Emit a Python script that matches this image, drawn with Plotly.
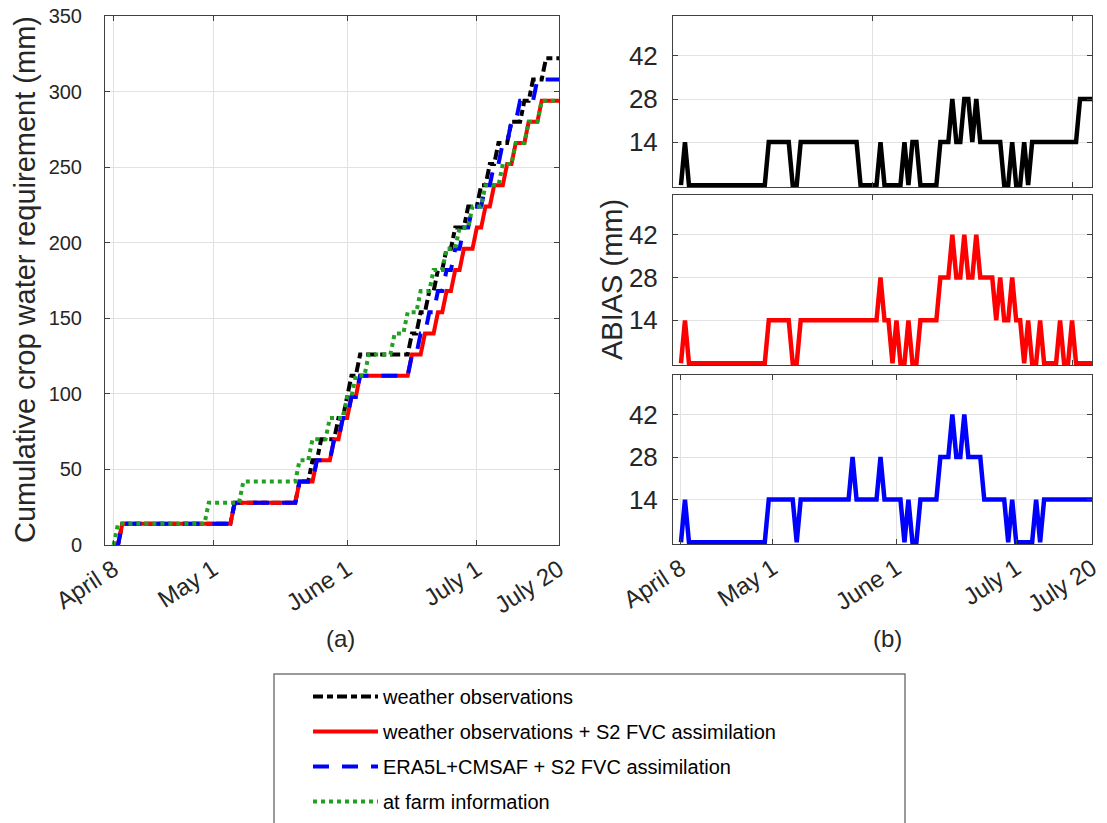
import plotly.graph_objects as go
import pandas as pd

# ---------------- data (day offsets from April 8) ----------------
START = "2021-04-08"

# cumulative crop water requirement (mm), breakpoints of the staircases
black_days = [0, 1, 2, 27, 28, 42, 43, 45, 46, 47, 48, 51, 52, 53, 54, 55, 56, 57, 68, 69, 70, 71, 72, 73,
              74, 75, 76, 77, 78, 79, 81, 82, 84, 85, 86, 87, 88, 89, 91, 92, 94, 95, 96, 97, 99, 100, 103]
black_vals = [0, 0, 14, 14, 28, 28, 42, 42, 56, 56, 70, 70, 84, 84, 98, 112, 112, 126, 126, 140, 140, 154, 154, 168,
              168, 182, 182, 196, 196, 210, 210, 224, 224, 238, 238, 252, 252, 266, 266, 280, 280, 294, 294, 308, 308, 322, 322]

red_days = [0, 1, 2, 27, 28, 42, 43, 46, 47, 50, 51, 52, 53, 54, 55, 56, 57, 68, 69, 71, 72, 74, 75, 76, 77, 78,
            79, 80, 81, 83, 84, 85, 86, 87, 88, 90, 91, 92, 93, 95, 96, 98, 99, 103]
red_vals = [0, 0, 14, 14, 28, 28, 42, 42, 56, 56, 70, 70, 84, 84, 98, 98, 112, 112, 126, 126, 140, 140, 154, 154, 168, 168,
            182, 182, 196, 196, 210, 210, 224, 224, 238, 238, 252, 252, 266, 266, 280, 280, 294, 294]

blue_days = [0, 1, 2, 27, 28, 42, 43, 46, 47, 50, 51, 52, 53, 54, 55, 56, 57, 68, 69, 70, 71, 72, 73, 74, 75, 76,
             77, 78, 79, 80, 81, 82, 83, 85, 86, 87, 88, 89, 90, 91, 92, 93, 94, 97, 98, 103]
blue_vals = [0, 0, 14, 14, 28, 28, 42, 42, 56, 56, 70, 70, 84, 84, 98, 98, 112, 112, 126, 126, 140, 140, 154, 154, 168, 168,
             182, 182, 196, 196, 210, 210, 224, 224, 238, 238, 252, 252, 266, 266, 280, 280, 294, 294, 308, 308]

green_days = [0, 1, 21, 22, 29, 30, 42, 43, 45, 46, 49, 50, 53, 54, 55, 56, 58, 59, 64, 65, 67, 68, 70, 71, 73, 74,
              76, 77, 79, 80, 82, 83, 85, 86, 89, 90, 92, 93, 95, 96, 98, 99, 103]
green_vals = [0, 14, 14, 28, 28, 42, 42, 56, 56, 70, 70, 84, 84, 98, 98, 112, 112, 126, 126, 140, 140, 154, 154, 168, 168, 182,
              182, 196, 196, 210, 210, 224, 224, 238, 238, 252, 252, 266, 266, 280, 280, 294, 294]

# ABIAS (mm) breakpoints
abias_black_days = [0, 1, 2, 21, 22, 27, 28, 29, 30, 44, 45, 49, 50, 51, 55, 56, 57, 58, 59, 60, 64, 65, 67, 68, 69, 70,
                    71, 72, 73, 74, 75, 80, 81, 82, 83, 84, 85, 86, 87, 88, 99, 100, 103]
abias_black_vals = [0, 14, 0, 0, 14, 14, 0, 0, 14, 14, 0, 0, 14, 0, 0, 14, 0, 14, 14, 0, 0, 14, 14, 28, 14, 14,
                    28, 28, 14, 28, 14, 14, 0, 0, 14, 0, 0, 14, 0, 14, 14, 28, 28]

abias_red_days = [0, 1, 2, 21, 22, 27, 28, 29, 30, 49, 50, 51, 52, 53, 54, 55, 56, 57, 58, 59, 60, 64, 65, 67, 68, 69,
                  70, 71, 72, 73, 74, 75, 78, 79, 80, 81, 82, 83, 84, 85, 86, 87, 88, 89, 90, 91, 94, 95, 96, 97, 98, 99, 103]
abias_red_vals = [0, 14, 0, 0, 14, 14, 0, 0, 14, 14, 28, 14, 14, 0, 14, 0, 0, 14, 0, 0, 14, 14, 28, 28, 42, 28,
                  28, 42, 28, 28, 42, 28, 28, 14, 28, 14, 14, 28, 14, 14, 0, 14, 0, 0, 14, 0, 0, 14, 0, 0, 14, 0, 0]

abias_blue_days = [0, 1, 2, 21, 22, 28, 29, 30, 42, 43, 44, 49, 50, 51, 55, 56, 57, 58, 59, 60, 64, 65, 67, 68, 69, 70,
                   71, 72, 75, 76, 81, 82, 83, 84, 88, 89, 90, 91, 103]
abias_blue_vals = [0, 14, 0, 0, 14, 14, 0, 14, 14, 28, 14, 14, 28, 14, 14, 0, 14, 0, 0, 14, 14, 28, 28, 42, 28, 28,
                   42, 28, 28, 14, 14, 0, 14, 0, 0, 14, 0, 14, 14]

series_names = ["weather observations",
                "weather observations + S2 FVC assimilation",
                "ERA5L+CMSAF + S2 FVC assimilation",
                "at farm information"]

x_range = ["2021-04-06", "2021-07-20"]
date_ticks = ["2021-04-08", "2021-05-01", "2021-06-01", "2021-07-01", "2021-07-20"]
date_tick_text = ["April 8", "May 1", "June 1", "July 1", "July 20"]
top_x_ticks = ["2021-05-26", "2021-07-15"]
left_y_ticks = [0, 50, 100, 150, 200, 250, 300, 350]
right_y_ticks = [14, 28, 42]


def to_dates(days):
    return pd.to_datetime(START) + pd.to_timedelta(days, unit="D")


W, H = 1107, 823
OFF = 8  # page body margin of the browser
def fx(p):
    return (p - OFF) / W
def fy(p):
    return 1 - (p - OFF) / H

FONT = "Arial, Liberation Sans, sans-serif"
TXT = "#262626"

fig = go.Figure()

styles = [
    dict(color="black", dash="10px,4px,6px,4px"),
    dict(color="#ff0000", dash="solid"),
    dict(color="#0000ff", dash="16px,13px"),
    dict(color="#22a022", dash="4px,4px"),
]
left_data = [(black_days, black_vals), (red_days, red_vals), (blue_days, blue_vals), (green_days, green_vals)]
for i, ((d, v), st, name) in enumerate(zip(left_data, styles, series_names)):
    fig.add_trace(go.Scatter(
        x=to_dates(d), y=v, mode="lines", name=name,
        line=dict(color=st["color"], dash=st["dash"], width=4),
        legendgroup="g%d" % i, xaxis="x", yaxis="y"))

abias_data = [(abias_black_days, abias_black_vals, "black", "x2", "y2"),
              (abias_red_days, abias_red_vals, "#ff0000", "x3", "y3"),
              (abias_blue_days, abias_blue_vals, "#0000ff", "x4", "y4")]
for d, v, c, xa, ya in abias_data:
    fig.add_trace(go.Scatter(x=to_dates(d), y=v, mode="lines", showlegend=False,
                             line=dict(color=c, width=4.5), xaxis=xa, yaxis=ya))

ax = dict(showline=True, linecolor="#404040", linewidth=1, mirror="ticks", ticks="inside",
          ticklen=5, tickcolor="#404040", showgrid=True, gridcolor="#e2e2e2", gridwidth=1,
          zeroline=False, automargin=False, ticklabeloverflow="allow",
          tickfont=dict(family=FONT, size=20, color=TXT))
rfont = dict(family=FONT, size=26, color=TXT)
xfont = dict(family=FONT, size=24, color=TXT)

x_left_dom = [fx(105), fx(559)]
x_right_dom = [fx(673), fx(1092)]

fig.update_layout(
    width=W, height=H, margin=dict(l=0, r=0, t=0, b=0, autoexpand=False),
    paper_bgcolor="white", plot_bgcolor="white",
    font=dict(family=FONT, color=TXT),
    xaxis=dict(ax, type="date", range=x_range, domain=x_left_dom, anchor="y",
               tickvals=date_ticks, ticktext=date_tick_text, tickangle=-33, tickfont=xfont),
    yaxis=dict(ax, range=[0, 350], domain=[fy(545), fy(16)], anchor="x",
               tickvals=left_y_ticks, ticklabelstandoff=18),
    xaxis2=dict(ax, type="date", range=x_range, domain=x_right_dom, anchor="y2",
                tickvals=top_x_ticks, showticklabels=False),
    yaxis2=dict(ax, range=[-0.6, 55], domain=[fy(187), fy(16)], anchor="x2",
                tickvals=right_y_ticks, tickfont=rfont, ticklabelstandoff=9),
    xaxis3=dict(ax, type="date", range=x_range, domain=x_right_dom, anchor="y3",
                tickvals=top_x_ticks, showticklabels=False),
    yaxis3=dict(ax, range=[-0.6, 55], domain=[fy(365), fy(195)], anchor="x3",
                tickvals=right_y_ticks, tickfont=rfont, ticklabelstandoff=9),
    xaxis4=dict(ax, type="date", range=x_range, domain=x_right_dom, anchor="y4",
                tickvals=date_ticks, ticktext=date_tick_text, tickangle=-33, tickfont=xfont),
    yaxis4=dict(ax, range=[-0.6, 55], domain=[fy(544), fy(375)], anchor="x4",
                tickvals=right_y_ticks, tickfont=rfont, ticklabelstandoff=9),
    legend=dict(x=fx(308), y=fy(677), xanchor="left", yanchor="top",
                bgcolor="rgba(0,0,0,0)", borderwidth=0, itemwidth=65,
                traceorder="grouped", tracegroupgap=6,
                font=dict(family=FONT, size=20, color="black")),
    showlegend=True,
)

fig.add_shape(type="rect", xref="paper", yref="paper",
              x0=fx(274), x1=fx(905), y0=fy(840), y1=fy(674),
              line=dict(color="#7a7a7a", width=1.5), fillcolor="rgba(0,0,0,0)")

annos = [
    dict(text="Cumulative crop water requirement (mm)", x=fx(25), y=fy(280), textangle=-90, size=29),
    dict(text="ABIAS (mm)", x=fx(612), y=fy(280), textangle=-90, size=29),
    dict(text="(a)", x=fx(340), y=fy(638), textangle=0, size=24),
    dict(text="(b)", x=fx(887), y=fy(638), textangle=0, size=24),
]
for a in annos:
    fig.add_annotation(text=a["text"], x=a["x"], y=a["y"], xref="paper", yref="paper",
                       xanchor="center", yanchor="middle", showarrow=False, textangle=a["textangle"],
                       font=dict(family=FONT, size=a["size"], color=TXT))

fig.write_html("out.html")
